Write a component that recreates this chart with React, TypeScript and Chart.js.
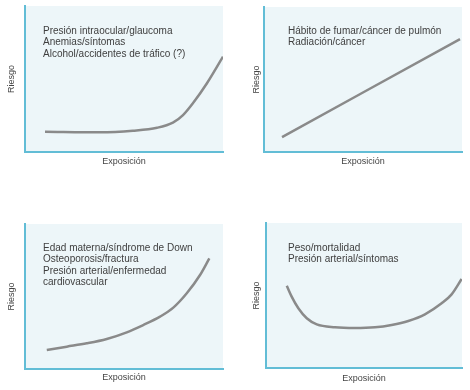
import React, { useEffect, useRef } from "react";
import { Chart, registerables } from "chart.js";

Chart.register(...registerables);

// Axis titles
const xTitle = "Exposición";
const yTitle = "Riesgo";

// Panel 1 (top-left)
const p1X = [10.1, 37.9, 54.5, 66.7, 74.7, 79.8, 84.8, 91.9, 100];
const p1Y = [13.9, 13.5, 14.6, 16.6, 20.1, 25.3, 33.4, 47.1, 65.3];
const p1Text = [
  "Presión intraocular/glaucoma",
  "Anemias/síntomas",
  "Alcohol/accidentes de tráfico (?)",
];

// Panel 2 (top-right)
const p2X = [9.1, 99];
const p2Y = [10.3, 77.9];
const p2Text = ["Hábito de fumar/cáncer de pulmón", "Radiación/cáncer"];

// Panel 3 (bottom-left)
const p3X = [11.0, 21.1, 31.2, 41.3, 51.4, 59.7, 68.2, 74.9, 81.7, 88.4, 93.1];
const p3Y = [13.1, 15.4, 17.7, 20.7, 25.3, 30.3, 36.1, 42.3, 52.2, 64.8, 76.3];
const p3Text = [
  "Edad materna/síndrome de Down",
  "Osteoporosis/fractura",
  "Presión arterial/enfermedad",
  "cardiovascular",
];

// Panel 4 (bottom-right)
const p4X = [10.6, 13.1, 16.5, 20.8, 25.9, 35.2, 45.4, 55.6, 64.1, 72.6, 81.1, 89.6, 94.7, 99.8];
const p4Y = [56.8, 49.2, 41.2, 34.3, 30.1, 28.1, 27.6, 28.1, 29.7, 32.4, 37.0, 44.6, 50.8, 61.4];
const p4Text = ["Peso/mortalidad", "Presión arterial/síntomas"];

const W = 470;
const H = 390;
const FONT = "'Liberation Sans', Arial, Helvetica, sans-serif";
const AXIS_COLOR = "#62bdd6";
const BG_COLOR = "#edf6f9";
const LINE_COLOR = "#8a8a8a";
const TEXT_COLOR = "#404040";

type Layout = {
  pad: { left: number; top: number; right: number; bottom: number };
  yTitlePadBottom: number;
  xTitlePadTop: number;
  textDx: number;
  textDy: number;
};

const panels: { xs: number[]; ys: number[]; text: string[]; layout: Layout }[] = [
  {
    xs: p1X,
    ys: p1Y,
    text: p1Text,
    layout: {
      pad: { left: 6.6, top: 6, right: 247, bottom: 222.6 },
      yTitlePadBottom: 7.6,
      xTitlePadTop: 4.6,
      textDx: 18,
      textDy: 25,
    },
  },
  {
    xs: p2X,
    ys: p2Y,
    text: p2Text,
    layout: {
      pad: { left: 251.6, top: 7, right: 8, bottom: 222.6 },
      yTitlePadBottom: 1.6,
      xTitlePadTop: 4.6,
      textDx: 24,
      textDy: 24,
    },
  },
  {
    xs: p3X,
    ys: p3Y,
    text: p3Text,
    layout: {
      pad: { left: 6.6, top: 224, right: 247, bottom: 6.6 },
      yTitlePadBottom: 7.6,
      xTitlePadTop: 3.6,
      textDx: 18,
      textDy: 24,
    },
  },
  {
    xs: p4X,
    ys: p4Y,
    text: p4Text,
    layout: {
      pad: { left: 251.6, top: 223, right: 8, bottom: 5.6 },
      yTitlePadBottom: 3.6,
      xTitlePadTop: 5.6,
      textDx: 22,
      textDy: 25,
    },
  },
];

const decoPlugin = {
  id: "panelDeco",
  beforeDraw(chart: any) {
    const { ctx, chartArea } = chart;
    ctx.save();
    ctx.fillStyle = BG_COLOR;
    ctx.fillRect(
      chartArea.left,
      chartArea.top,
      chartArea.right - chartArea.left,
      chartArea.bottom - chartArea.top
    );
    ctx.restore();
  },
  afterDraw(chart: any, _args: any, opts: any) {
    const { ctx, chartArea } = chart;
    const lines: string[] = opts.lines || [];
    ctx.save();
    ctx.fillStyle = TEXT_COLOR;
    ctx.font = `10px ${FONT}`;
    ctx.textBaseline = "middle";
    ctx.textAlign = "left";
    lines.forEach((t, i) => {
      ctx.fillText(t, chartArea.left + opts.dx, chartArea.top + opts.dy + i * 11.5);
    });
    ctx.restore();
  },
};

function Panel({ idx }: { idx: number }) {
  const ref = useRef<HTMLCanvasElement | null>(null);
  useEffect(() => {
    const p = panels[idx];
    const L = p.layout;
    const chart = new Chart(ref.current as HTMLCanvasElement, {
      type: "line",
      data: {
        datasets: [
          {
            data: p.xs.map((x, i) => ({ x, y: p.ys[i] })),
            borderColor: LINE_COLOR,
            borderWidth: 2.5,
            pointRadius: 0,
            cubicInterpolationMode: "monotone",
            fill: false,
          },
        ],
      },
      options: {
        animation: false,
        responsive: false,
        events: [],
        layout: { padding: L.pad },
        plugins: {
          legend: { display: false },
          tooltip: { enabled: false },
          panelDeco: { lines: p.text, dx: L.textDx, dy: L.textDy },
        } as any,
        scales: {
          x: {
            type: "linear",
            min: 0,
            max: 100,
            grid: { display: false, drawTicks: false },
            ticks: { display: false },
            border: { display: true, color: AXIS_COLOR, width: 2 },
            title: {
              display: true,
              text: xTitle,
              color: "#444",
              font: { family: FONT, size: 9 },
              padding: { top: L.xTitlePadTop, bottom: 0 },
            },
          },
          y: {
            type: "linear",
            min: 0,
            max: 100,
            grid: { display: false, drawTicks: false },
            ticks: { display: false },
            border: { display: true, color: AXIS_COLOR, width: 2 },
            title: {
              display: true,
              text: yTitle,
              color: "#444",
              font: { family: FONT, size: 9 },
              padding: { top: 0, bottom: L.yTitlePadBottom },
            },
          },
        },
      },
      plugins: [decoPlugin],
    });
    return () => chart.destroy();
  }, [idx]);
  return (
    <canvas
      ref={ref}
      width={W}
      height={H}
      style={{ position: "absolute", left: 0, top: 0, width: W, height: H }}
    />
  );
}

export default function App() {
  return (
    <div style={{ position: "absolute", left: 0, top: 0, width: W, height: H, background: "#fff" }}>
      {panels.map((_, i) => (
        <Panel key={i} idx={i} />
      ))}
    </div>
  );
}
